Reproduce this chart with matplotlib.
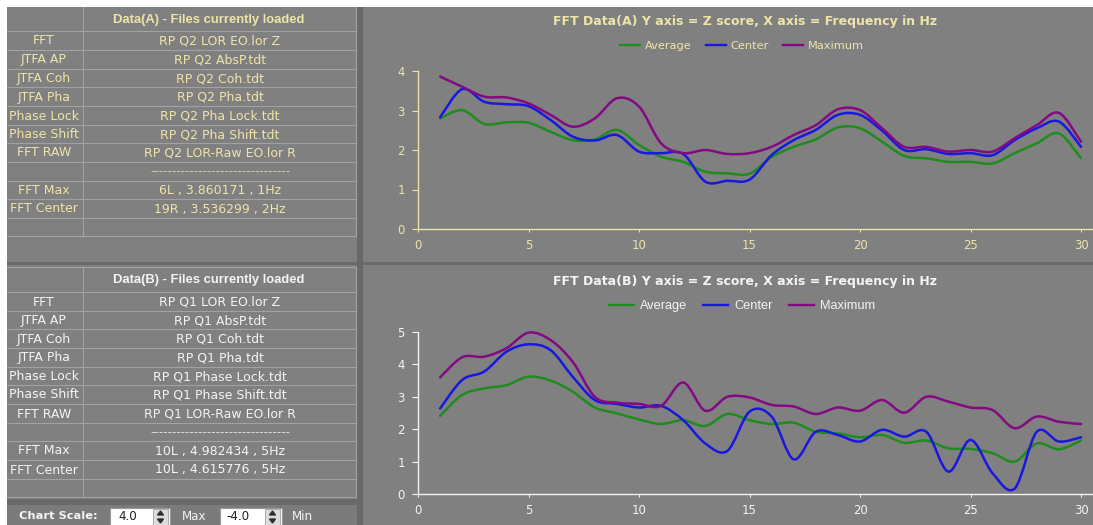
import matplotlib
matplotlib.use("Agg")
import matplotlib.pyplot as plt
from matplotlib.path import Path
from matplotlib.patches import PathPatch, Rectangle, Polygon
from matplotlib.lines import Line2D

# ---------------------------------------------------------------- data
freq = list(range(1, 31))

a_average = [2.80, 3.01, 2.66, 2.70, 2.69, 2.46, 2.25, 2.27, 2.51, 2.13,
             1.83, 1.70, 1.45, 1.41, 1.40, 1.82, 2.08, 2.27, 2.57, 2.55,
             2.21, 1.85, 1.79, 1.70, 1.70, 1.66, 1.92, 2.17, 2.42, 1.79]
a_center = [2.83, 3.54, 3.22, 3.16, 3.11, 2.76, 2.34, 2.24, 2.38, 1.96,
            1.92, 1.90, 1.20, 1.22, 1.25, 1.87, 2.25, 2.51, 2.89, 2.89,
            2.49, 2.00, 2.02, 1.90, 1.92, 1.87, 2.25, 2.55, 2.72, 2.08]
a_maximum = [3.86, 3.60, 3.35, 3.33, 3.18, 2.89, 2.59, 2.80, 3.31, 3.10,
             2.17, 1.92, 2.00, 1.90, 1.92, 2.08, 2.38, 2.63, 3.03, 3.01,
             2.55, 2.08, 2.08, 1.96, 2.00, 1.96, 2.30, 2.63, 2.94, 2.21]

b_average = [2.41, 3.06, 3.26, 3.36, 3.62, 3.50, 3.16, 2.67, 2.49, 2.30,
             2.16, 2.28, 2.10, 2.47, 2.28, 2.16, 2.20, 1.92, 1.87, 1.75,
             1.82, 1.58, 1.65, 1.41, 1.39, 1.26, 1.00, 1.56, 1.38, 1.65]
b_center = [2.64, 3.52, 3.78, 4.39, 4.62, 4.44, 3.62, 2.90, 2.78, 2.67,
            2.72, 2.28, 1.56, 1.33, 2.54, 2.39, 1.07, 1.92, 1.82, 1.62,
            1.98, 1.77, 1.92, 0.69, 1.67, 0.64, 0.17, 1.92, 1.62, 1.75]
b_maximum = [3.60, 4.22, 4.24, 4.50, 4.98, 4.75, 4.08, 3.00, 2.82, 2.78,
             2.72, 3.44, 2.57, 3.00, 2.98, 2.75, 2.70, 2.47, 2.67, 2.57,
             2.90, 2.51, 3.00, 2.85, 2.67, 2.59, 2.03, 2.39, 2.23, 2.16]

series_names = ["Average", "Center", "Maximum"]
x_ticks = [0, 5, 10, 15, 20, 25, 30]

row_labels = ["FFT", "JTFA AP", "JTFA Coh", "JTFA Pha", "Phase Lock",
              "Phase Shift", "FFT RAW", "", "FFT Max", "FFT Center", ""]
files_a = ["RP Q2 LOR EO.lor Z", "RP Q2 AbsP.tdt", "RP Q2 Coh.tdt",
           "RP Q2 Pha.tdt", "RP Q2 Pha Lock.tdt", "RP Q2 Pha Shift.tdt",
           "RP Q2 LOR-Raw EO.lor R", "-" * 32,
           "6L , 3.860171 , 1Hz", "19R , 3.536299 , 2Hz", ""]
files_b = ["RP Q1 LOR EO.lor Z", "RP Q1 AbsP.tdt", "RP Q1 Coh.tdt",
           "RP Q1 Pha.tdt", "RP Q1 Phase Lock.tdt", "RP Q1 Phase Shift.tdt",
           "RP Q1 LOR-Raw EO.lor R", "-" * 32,
           "10L , 4.982434 , 5Hz", "10L , 4.615776 , 5Hz", ""]

scale_max = "4.0"
scale_min = "-4.0"

# ---------------------------------------------------------------- style
W, H = 1093, 525
GRAY = "#808080"
DARK = "#696969"
GRID = "#a2a2a2"
BEIGE = "#eee4a8"
WHITE = "#f4f4f4"
COLORS = ["#1f8c1f", "#1818e0", "#840a84"]
FONT = "DejaVu Sans"
CELL_SIZE = 9.0

fig = plt.figure(figsize=(W / 100, H / 100), dpi=100)
fig.patch.set_facecolor("white")

# full-figure canvas in pixel units (y grows downward)
bg = fig.add_axes([0, 0, 1, 1])
bg.set_xlim(0, W)
bg.set_ylim(H, 0)
bg.axis("off")


def rect(x0, y0, x1, y1, color, z=0, ec="none", lw=0):
    bg.add_patch(Rectangle((x0, y0), x1 - x0, y1 - y0, facecolor=color,
                           edgecolor=ec, linewidth=lw, zorder=z))


rect(7, 7, W, H, GRAY)
rect(357, 7, 363, H, DARK, z=1)
rect(7, 262, W, 265, DARK, z=1)
rect(7, 499, 357, 505, DARK, z=1)
rect(7, 505, 357, H, "#7b7b7b", z=1)


def draw_table(top, head_bottom, edges, header, labels, values, color):
    for y in [head_bottom] + edges:
        bg.plot([7, 356], [y, y], color=GRID, lw=0.8, zorder=2)
    if top is not None:
        bg.plot([7, 356], [top, top], color=GRID, lw=0.8, zorder=2)
    y_top = top if top is not None else 7
    bg.plot([83, 83], [y_top, edges[-1]], color=GRID, lw=0.8, zorder=2)
    bg.plot([356, 356], [y_top, edges[-1]], color=GRID, lw=0.8, zorder=2)

    bg.text(209, (y_top + head_bottom) / 2 + 0.5, header, color=color,
            fontsize=9.4, fontweight="bold", family="Liberation Sans",
            ha="center", va="center", zorder=3)
    prev = head_bottom
    for lab, val, e in zip(labels, values, edges):
        yc = (prev + e) / 2 + 0.5
        if lab:
            bg.text(44, yc, lab, color=color, fontsize=CELL_SIZE, family=FONT,
                    ha="center", va="center", zorder=3)
        if val:
            is_dash = val.startswith("---")
            bg.text(220, yc, val, color=color,
                    fontsize=8.6 if is_dash else CELL_SIZE,
                    family=FONT, ha="center", va="center", zorder=3,
                    alpha=0.8 if is_dash else 1)
        prev = e


edges_a = [50, 69, 87, 106, 125, 143, 162, 181, 199, 218, 236]
edges_b = [311, 329, 348, 367, 385, 404, 423, 441, 460, 479, 497]

draw_table(None, 31, edges_a, "Data(A) - Files currently loaded",
           row_labels, files_a, BEIGE)
draw_table(267, 292, edges_b, "Data(B) - Files currently loaded",
           row_labels, files_b, WHITE)

# chart-scale controls
bg.text(58, 516, "Chart Scale:", color=WHITE, fontsize=8.2, family=FONT,
        fontweight="bold", ha="center", va="center", zorder=3)


def spin_box(x0, x1, text):
    rect(x0, 508, x1, 526, "white", z=3, ec="#9a9a9a", lw=0.8)
    bg.text(x0 + 18, 517, text, color="#202020", fontsize=8.6, family=FONT,
            ha="center", va="center", zorder=4)
    sx0, sx1 = x1 - 17, x1 - 2
    rect(sx0, 509, sx1, 525, "#dcdcdc", z=4, ec="#a0a0a0", lw=0.6)
    cx = (sx0 + sx1) / 2
    bg.add_patch(Polygon([[cx - 3, 515], [cx + 3, 515], [cx, 511]],
                         closed=True, color="#303030", zorder=5))
    bg.add_patch(Polygon([[cx - 3, 519], [cx + 3, 519], [cx, 523]],
                         closed=True, color="#303030", zorder=5))


spin_box(110, 170, scale_max)
bg.text(194, 517, "Max", color=WHITE, fontsize=8.6, family=FONT,
        ha="center", va="center", zorder=3)
spin_box(220, 282, scale_min)
bg.text(302, 517, "Min", color=WHITE, fontsize=8.6, family=FONT,
        ha="center", va="center", zorder=3)


# ---------------------------------------------------------------- charts
def smooth_path(xs, ys):
    """Catmull-Rom spline through the points, expressed as cubic Beziers."""
    pts = list(zip(xs, ys))
    verts = [pts[0]]
    codes = [Path.MOVETO]
    n = len(pts)
    for i in range(n - 1):
        p0 = pts[i - 1] if i > 0 else pts[i]
        p1 = pts[i]
        p2 = pts[i + 1]
        p3 = pts[i + 2] if i + 2 < n else pts[i + 1]
        c1 = (p1[0] + (p2[0] - p0[0]) / 6, p1[1] + (p2[1] - p0[1]) / 6)
        c2 = (p2[0] - (p3[0] - p1[0]) / 6, p2[1] - (p3[1] - p1[1]) / 6)
        verts += [c1, c2, p2]
        codes += [Path.CURVE4] * 3
    return Path(verts, codes)


def make_chart(y_axis_top, y_axis_zero, ymax, series, text_color, title,
               title_y, legend_y, legend_family, legend_size, handle_len,
               text_pad, col_space):
    x_left, x30, x_right = 418, 1081, 1093
    ax = fig.add_axes([x_left / W, 1 - y_axis_zero / H,
                       (x_right - x_left) / W,
                       (y_axis_zero - y_axis_top) / H])
    ax.set_facecolor("none")
    ax.set_xlim(0, 30 * (x_right - x_left) / (x30 - x_left))
    ax.set_ylim(0, ymax)
    for s in ["top", "right"]:
        ax.spines[s].set_visible(False)
    for s in ["left", "bottom"]:
        ax.spines[s].set_color(text_color)
        ax.spines[s].set_linewidth(1.0)
    ax.set_xticks(x_ticks)
    ax.set_yticks(range(0, ymax + 1))
    ax.tick_params(axis="y", colors=text_color, length=4.5, width=0.8,
                   pad=5, labelsize=8.4)
    ax.tick_params(axis="x", colors=text_color, length=2.5, width=0.8,
                   pad=4.5, labelsize=8.4)
    for lab in ax.get_xticklabels() + ax.get_yticklabels():
        lab.set_family(FONT)

    handles = []
    for vals, col, name in zip(series, COLORS, series_names):
        ax.add_patch(PathPatch(smooth_path(freq, vals), facecolor="none",
                               edgecolor=col, linewidth=1.8,
                               capstyle="round", joinstyle="round",
                               clip_on=False))
        handles.append(Line2D([], [], color=col, linewidth=1.7, label=name))

    bg.text(745, title_y, title, color=text_color, fontsize=9.0,
            fontweight="bold", family=FONT, ha="center", va="center",
            zorder=3)

    leg = fig.legend(handles=handles, loc="center",
                     bbox_to_anchor=(742 / W, 1 - legend_y / H), ncol=3,
                     frameon=False, handlelength=handle_len,
                     handletextpad=text_pad, columnspacing=col_space,
                     borderpad=0, borderaxespad=0,
                     prop={"family": legend_family, "size": legend_size})
    for t in leg.get_texts():
        t.set_color(text_color)
    return ax


make_chart(71, 229, 4, [a_average, a_center, a_maximum], BEIGE,
           "FFT Data(A) Y axis = Z score, X axis = Frequency in Hz",
           21.5, 46, FONT, 8.2, 1.75, 0.45, 1.2)
make_chart(332, 494, 5, [b_average, b_center, b_maximum], WHITE,
           "FFT Data(B) Y axis = Z score, X axis = Frequency in Hz",
           281, 306, "Liberation Sans", 9.2, 1.95, 0.47, 1.25)

fig.savefig("out.png", dpi=100, facecolor=fig.get_facecolor())
